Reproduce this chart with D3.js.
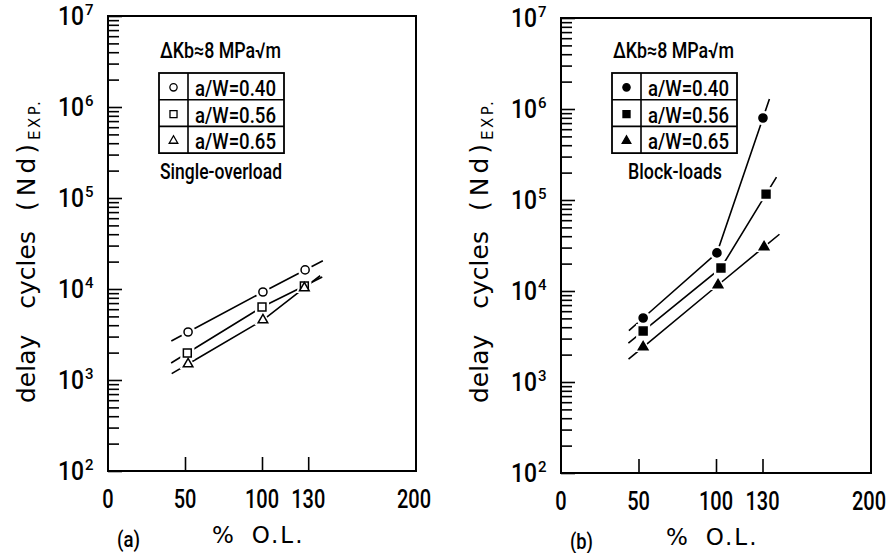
<!DOCTYPE html>
<html>
<head>
<meta charset="utf-8">
<script src="https://cdn.jsdelivr.net/npm/d3@7"></script>
<style>
  body { margin: 0; background: #fff; }
  svg text { fill: #000; }
  .narrow { font-family: "Roboto", "DejaVu Sans Condensed", sans-serif; font-weight: 500; }
  .round { font-family: "DejaVu Sans", sans-serif; }
</style>
</head>
<body>
<svg id="chart" width="889" height="553"></svg>
<script>
// ---- data (x = % O.L., y = delay cycles) ----
var xTickMarks = [50, 100, 130];
var xTickLabels = [0, 50, 100, 130, 200];
var yDecades = [2, 3, 4, 5, 6, 7];
var legendNames = ["a/W=0.40", "a/W=0.56", "a/W=0.65"];

// (a) single-overload
var singleX040 = [52, 100.6, 128];
var singleY040 = [3370, 9270, 16200];
var singleX056 = [51.5, 100, 127.5];
var singleY056 = [1980, 6340, 10800];
var singleX065 = [52, 100.6, 127.5];
var singleY065 = [1500, 4560, 10260];

// (b) block-loads
var blockX040 = [53, 100.6, 130.3];
var blockY040 = [5050, 26200, 796000];
var blockX056 = [53, 103.2, 132.3];
var blockY056 = [3630, 17900, 116000];
var blockX065 = [53, 101.3, 131];
var blockY065 = [2420, 11640, 30460];

var svg = d3.select("#chart");

var panels = [
  {
    left: 108, right: 416, top: 16, bottom: 471,
    tag: "(a)", note: "Single-overload", noteLen: 122, filled: false,
    series: [
      {x: singleX040, y: singleY040, symbol: d3.symbolCircle},
      {x: singleX056, y: singleY056, symbol: d3.symbolSquare},
      {x: singleX065, y: singleY065, symbol: d3.symbolTriangle}
    ]
  },
  {
    left: 561, right: 871, top: 18, bottom: 473,
    tag: "(b)", note: "Block-loads", noteLen: 94, filled: true,
    series: [
      {x: blockX040, y: blockY040, symbol: d3.symbolCircle},
      {x: blockX056, y: blockY056, symbol: d3.symbolSquare},
      {x: blockX065, y: blockY065, symbol: d3.symbolTriangle}
    ]
  }
];

function sizeOf(sym) {
  if (sym === d3.symbolCircle) return 52;
  if (sym === d3.symbolSquare) return 62;
  return 40;
}

panels.forEach(function(p) {
  var x = d3.scaleLinear().domain([0, 200]).range([p.left, p.right]);
  var y = d3.scaleLog().domain([1e2, 1e7]).range([p.bottom, p.top]);
  var g = svg.append("g");

  // frame
  g.append("rect")
    .attr("x", p.left).attr("y", p.top)
    .attr("width", p.right - p.left).attr("height", p.bottom - p.top)
    .attr("fill", "none").attr("stroke", "#000").attr("stroke-width", 2);

  // y ticks, pointing inward
  var minor = [];
  for (var d = 2; d < 7; d++) {
    for (var m = 2; m <= 9; m++) minor.push(m * Math.pow(10, d));
  }
  var major = yDecades.map(function(d) { return Math.pow(10, d); });

  g.append("g")
    .attr("transform", "translate(" + p.left + ",0)")
    .call(d3.axisRight(y).tickValues(minor).tickSize(11).tickFormat(""))
    .call(function(s) { s.select(".domain").remove(); s.selectAll("line").attr("stroke-width", 1.6); });
  g.append("g")
    .attr("transform", "translate(" + p.left + ",0)")
    .call(d3.axisRight(y).tickValues(major).tickSize(14).tickFormat(""))
    .call(function(s) { s.select(".domain").remove(); s.selectAll("line").attr("stroke-width", 1.6); });

  // y tick labels 10^n
  g.selectAll(".ylab").data(yDecades).enter().append("text")
    .attr("class", "narrow")
    .attr("x", p.left - 50)
    .attr("y", function(d) { return y(Math.pow(10, d)) + 9; })
    .attr("textLength", 26).attr("lengthAdjust", "spacingAndGlyphs")
    .style("font-size", "25px")
    .text("10");
  g.selectAll(".ysup").data(yDecades).enter().append("text")
    .attr("class", "narrow")
    .attr("x", p.left - 23)
    .attr("y", function(d) { return y(Math.pow(10, d)) - 1; })
    .style("font-size", "15px")
    .text(function(d) { return d; });

  // x ticks pointing up
  g.append("g")
    .attr("transform", "translate(0," + p.bottom + ")")
    .call(d3.axisTop(x).tickValues(xTickMarks).tickSize(14).tickFormat(""))
    .call(function(s) { s.select(".domain").remove(); s.selectAll("line").attr("stroke-width", 1.6); });

  g.selectAll(".xlab").data(xTickLabels).enter().append("text")
    .attr("class", "narrow")
    .attr("transform", function(d) {
      return "translate(" + (x(d) - (d === 200 ? 2 : 0)) + "," + (p.bottom + 37) + ") scale(0.8,1)";
    })
    .attr("text-anchor", "middle")
    .style("font-size", "25px")
    .text(function(d) { return d; });

  // axis titles
  var xt = g.append("text").attr("class", "round")
    .attr("x", x(100) - 50).attr("y", p.bottom + 72)
    .style("font-size", "23px");
  xt.append("tspan").text("%");
  xt.append("tspan").attr("dx", 18).style("letter-spacing", "2px").text("O.L.");

  g.append("text").attr("class", "narrow")
    .attr("x", p.left + 9).attr("y", p.bottom + 76)
    .attr("textLength", 23).attr("lengthAdjust", "spacingAndGlyphs")
    .style("font-size", "22px")
    .text(p.tag);

  var yt = g.append("text").attr("class", "round")
    .attr("transform", "translate(" + (p.left - 73) + ",403) rotate(-90)")
    .style("font-size", "25px");
  yt.append("tspan").text("delay");
  yt.append("tspan").attr("dx", 26).text("cycles");
  yt.append("tspan").attr("dx", 20).text("(");
  yt.append("tspan").attr("dx", 5).text("N");
  yt.append("tspan").attr("dx", 4).text("d");
  yt.append("tspan").attr("dx", 4).text(")");
  yt.append("tspan").attr("dx", 4).attr("dy", 5).style("font-size", "15px").style("letter-spacing", "2.5px").text("EXP.");

  // fitted lines: polyline through points, extended ~20px at both ends
  var lineGen = d3.line();
  p.series.forEach(function(s) {
    var pts = s.x.map(function(v, i) { return [x(v), y(s.y[i])]; });
    function extend(a, b, len) {
      var dx = a[0] - b[0], dy = a[1] - b[1], n = Math.sqrt(dx * dx + dy * dy);
      return [a[0] + dx / n * len, a[1] + dy / n * len];
    }
    var n = pts.length;
    var full = [extend(pts[0], pts[1], 19)].concat(pts).concat([extend(pts[n - 1], pts[n - 2], 20)]);
    g.append("path").attr("d", lineGen(full))
      .attr("fill", "none").attr("stroke", "#000").attr("stroke-width", 1.6);
  });

  // white halos make the gaps around the markers
  p.series.forEach(function(s) {
    g.selectAll(null).data(s.x).enter().append("path")
      .attr("d", d3.symbol().type(s.symbol).size(sizeOf(s.symbol) * 3.2))
      .attr("transform", function(v, i) { return "translate(" + x(v) + "," + y(s.y[i]) + ")"; })
      .attr("fill", "#fff");
  });
  p.series.forEach(function(s) {
    g.selectAll(null).data(s.x).enter().append("path")
      .attr("d", d3.symbol().type(s.symbol).size(sizeOf(s.symbol)))
      .attr("transform", function(v, i) { return "translate(" + x(v) + "," + y(s.y[i]) + ")"; })
      .attr("fill", p.filled ? "#000" : "#fff")
      .attr("stroke", "#000").attr("stroke-width", 1.5);
  });

  // legend
  var lx = p.left + 51, ly = 73, lw = 125, rh = 26.7, cw = 29;
  var lg = g.append("g");
  lg.append("text").attr("class", "narrow")
    .attr("x", lx + 1).attr("y", 58)
    .attr("textLength", 121).attr("lengthAdjust", "spacingAndGlyphs")
    .style("font-size", "22px")
    .text("ΔKb≈8 MPa√m");

  lg.append("rect").attr("x", lx).attr("y", ly).attr("width", lw).attr("height", rh * 3)
    .attr("fill", "none").attr("stroke", "#000").attr("stroke-width", 1.8);
  [1, 2].forEach(function(i) {
    lg.append("line").attr("x1", lx).attr("x2", lx + lw)
      .attr("y1", ly + rh * i).attr("y2", ly + rh * i)
      .attr("stroke", "#000").attr("stroke-width", 1.6);
  });
  lg.append("line").attr("x1", lx + cw).attr("x2", lx + cw)
    .attr("y1", ly).attr("y2", ly + rh * 3)
    .attr("stroke", "#000").attr("stroke-width", 1.6);

  legendNames.forEach(function(name, i) {
    var s = p.series[i];
    lg.append("path")
      .attr("d", d3.symbol().type(s.symbol).size(sizeOf(s.symbol) * 0.8))
      .attr("transform", "translate(" + (lx + cw / 2) + "," + (ly + rh * i + rh / 2 + 1) + ")")
      .attr("fill", p.filled ? "#000" : "#fff")
      .attr("stroke", "#000").attr("stroke-width", 1.3);
    lg.append("text").attr("class", "narrow")
      .attr("x", lx + cw + 7).attr("y", ly + rh * i + 23)
      .attr("textLength", 81).attr("lengthAdjust", "spacingAndGlyphs")
      .style("font-size", "22px")
      .text(name);
  });

  var noteX = p.filled ? lx + 16 : lx + 1;
  lg.append("text").attr("class", "narrow")
    .attr("x", noteX).attr("y", 179)
    .attr("textLength", p.noteLen).attr("lengthAdjust", "spacingAndGlyphs")
    .style("font-size", "22px")
    .text(p.note);
});
</script>
</body>
</html>
